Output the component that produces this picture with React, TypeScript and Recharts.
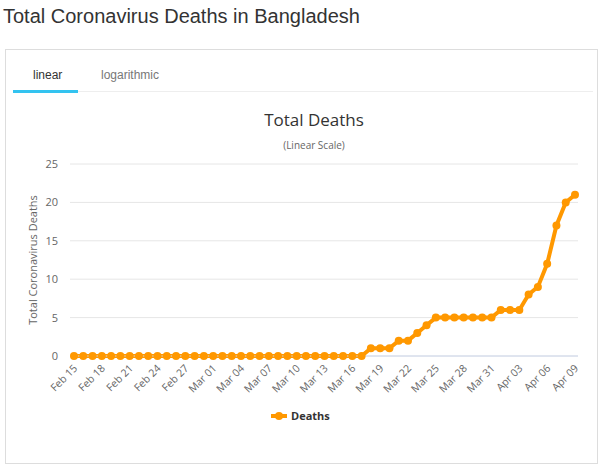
import { LineChart, Line, XAxis, YAxis, CartesianGrid } from "recharts";

const dates = [
  "Feb 15", "Feb 16", "Feb 17", "Feb 18", "Feb 19", "Feb 20", "Feb 21", "Feb 22", "Feb 23", "Feb 24",
  "Feb 25", "Feb 26", "Feb 27", "Feb 28", "Feb 29", "Mar 01", "Mar 02", "Mar 03", "Mar 04", "Mar 05",
  "Mar 06", "Mar 07", "Mar 08", "Mar 09", "Mar 10", "Mar 11", "Mar 12", "Mar 13", "Mar 14", "Mar 15",
  "Mar 16", "Mar 17", "Mar 18", "Mar 19", "Mar 20", "Mar 21", "Mar 22", "Mar 23", "Mar 24", "Mar 25",
  "Mar 26", "Mar 27", "Mar 28", "Mar 29", "Mar 30", "Mar 31", "Apr 01", "Apr 02", "Apr 03", "Apr 04",
  "Apr 05", "Apr 06", "Apr 07", "Apr 08", "Apr 09",
];

const deaths = [
  0, 0, 0, 0, 0, 0, 0, 0, 0, 0,
  0, 0, 0, 0, 0, 0, 0, 0, 0, 0,
  0, 0, 0, 0, 0, 0, 0, 0, 0, 0,
  0, 0, 1, 1, 1, 2, 2, 3, 4, 5,
  5, 5, 5, 5, 5, 5, 6, 6, 6, 8,
  9, 12, 17, 20, 21,
];

const yTicks = [0, 5, 10, 15, 20, 25];

const ORANGE = "#ff9800";
const FONT = "'Open Sans', 'DejaVu Sans', sans-serif";

const data = dates.map((d, i) => ({ date: d, deaths: deaths[i] }));

function DateTick(props: any) {
  const { x, y, payload } = props;
  return (
    <text
      x={x + 4}
      y={y + 5}
      transform={`rotate(-45 ${x + 4} ${y + 5})`}
      textAnchor="end"
      fill="#666"
      fontSize={10.5}
      fontFamily={FONT}
    >
      {payload.value}
    </text>
  );
}

export default function App() {
  return (
    <div style={{ position: "absolute", left: 0, top: 0, width: 602, height: 468, background: "#fff", fontFamily: "'Liberation Sans', Arial, sans-serif" }}>
      <div style={{ position: "absolute", left: 3, top: 5, fontSize: 20, color: "#333", whiteSpace: "nowrap" }}>
        Total Coronavirus Deaths in Bangladesh
      </div>
      <div style={{ position: "absolute", left: 5, top: 49, width: 591, height: 413, border: "1px solid #ddd" }} />
      <div style={{ position: "absolute", left: 33, top: 68, fontSize: 12, color: "#333" }}>linear</div>
      <div style={{ position: "absolute", left: 101, top: 68, fontSize: 12, color: "#777" }}>logarithmic</div>
      <div style={{ position: "absolute", left: 13, top: 91, width: 580, height: 1, background: "#eee" }} />
      <div style={{ position: "absolute", left: 13, top: 90, width: 65, height: 3, background: "#33c3f0" }} />
      <div style={{ position: "absolute", left: 0, width: 628, top: 108, textAlign: "center", fontSize: 17, color: "#333", fontFamily: FONT }}>
        Total Deaths
      </div>
      <div style={{ position: "absolute", left: 0, width: 628, top: 138, textAlign: "center", fontSize: 10, color: "#666", fontFamily: FONT }}>
        (Linear Scale)
      </div>
      <div style={{ position: "absolute", left: 0, top: 100 }}>
        <LineChart width={600} height={310} data={data} margin={{ top: 64, right: 22, bottom: 0, left: 20 }}>
          <CartesianGrid vertical={false} stroke="#e6e6e6" />
          <XAxis
            dataKey="date"
            interval={2}
            tickLine={false}
            axisLine={{ stroke: "#ccd6eb" }}
            padding={{ left: 4, right: 3 }}
            height={54}
            tick={<DateTick />}
          />
          <YAxis
            domain={[0, 25]}
            ticks={yTicks}
            width={50}
            axisLine={false}
            tickLine={false}
            tick={{ fill: "#666", fontSize: 11, fontFamily: FONT, dx: -4 }}
            label={{
              value: "Total Coronavirus Deaths",
              angle: -90,
              position: "insideLeft",
              offset: 13,
              style: { textAnchor: "middle", fill: "#666", fontSize: 11, fontFamily: FONT },
            }}
          />
          <Line
            type="linear"
            dataKey="deaths"
            stroke={ORANGE}
            strokeWidth={4}
            dot={{ r: 4, fill: ORANGE, stroke: ORANGE, strokeWidth: 0 }}
            isAnimationActive={false}
          />
        </LineChart>
      </div>
      <div style={{ position: "absolute", left: 271, top: 408, display: "flex", alignItems: "center", fontFamily: FONT }}>
        <svg width={16} height={10} style={{ marginRight: 4 }}>
          <line x1={0} y1={5} x2={16} y2={5} stroke={ORANGE} strokeWidth={4} />
          <circle cx={8} cy={5} r={4} fill={ORANGE} />
        </svg>
        <span style={{ fontSize: 11, fontWeight: "bold", color: "#333" }}>Deaths</span>
      </div>
    </div>
  );
}
